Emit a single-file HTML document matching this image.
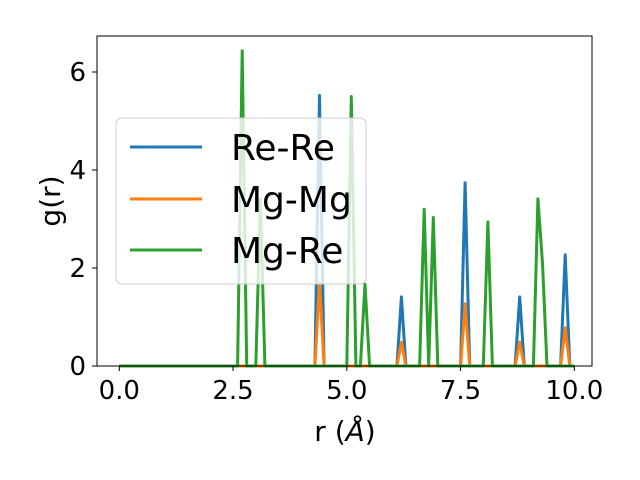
<!DOCTYPE html>
<html><head><meta charset="utf-8"><style>body{margin:0;background:#fff}svg{display:block;font-family:"DejaVu Sans","Liberation Sans",sans-serif}</style></head>
<body>
<svg id="chart" width="640" height="480" viewBox="0 0 640 480">
<rect x="97" y="36" width="495" height="330" fill="#fff"/>
<g id="series"></g>
<rect x="97" y="36" width="495" height="330" fill="none" stroke="#000" stroke-width="1"/>
<g id="axes"></g>
<text transform="translate(60,201) rotate(-90)" text-anchor="middle" font-size="28">g(r)</text>
<text x="345" y="441" text-anchor="middle" font-size="28">r (<tspan font-style="italic">Å</tspan>)</text>
<g>
<rect x="116" y="118" width="250" height="166" rx="6" fill="#fff" fill-opacity="0.8" stroke="#ccc"/>
<line x1="130" y1="147" x2="202" y2="147" stroke="#1f77b4" stroke-width="3"/>
<text x="231" y="160" font-size="36">Re-Re</text>
<line x1="130" y1="199" x2="202" y2="199" stroke="#ff7f0e" stroke-width="3"/>
<text x="231" y="212" font-size="36">Mg-Mg</text>
<line x1="130" y1="250" x2="202" y2="250" stroke="#2ca02c" stroke-width="3"/>
<text x="231" y="263" font-size="36">Mg-Re</text>
</g>
</svg>
<script>
const peakR = [2.7,3.1,4.4,5.1,5.4,6.2,6.7,6.9,7.6,8.1,8.8,9.2,9.3,9.8];
const reRe  = [0,0,5.52,0,0,1.41,0,0,3.74,0,1.41,0,0,2.27];
const mgMg  = [0,0,1.7,0,0,0.49,0,0,1.27,0,0.49,0,0,0.78];
const mgRe  = [6.43,3.4,0,5.5,1.67,0,3.2,3.03,0,2.94,0,3.41,2.1,0];
const xTicks = [0,2.5,5,7.5,10];
const xTickLabels = ["0.0","2.5","5.0","7.5","10.0"];
const yTicks = [0,2,4,6];
const yTickLabels = ["0","2","4","6"];
const NS="http://www.w3.org/2000/svg";
const X=r=>119.3+r*45.5, Y=v=>366-v*49;
function full(vals){const a=[];for(let i=0;i<=100;i++){const r=i/10;const k=peakR.findIndex(p=>Math.abs(p-r)<1e-6);a.push(k>=0?vals[k]:0);}return a;}
const sg=document.getElementById('series');
[[reRe,'#1f77b4','line-re-re'],[mgMg,'#ff7f0e','line-mg-mg'],[mgRe,'#2ca02c','line-mg-re']].forEach(([v,c,n])=>{
 const d=full(v).map((y,i)=>(i?'L':'M')+X(i/10).toFixed(1)+','+Y(y).toFixed(1)).join('');
 const p=document.createElementNS(NS,'path');
 p.setAttribute('d',d);p.setAttribute('fill','none');p.setAttribute('stroke',c);p.setAttribute('stroke-width','3');p.setAttribute('stroke-linejoin','round');
 
 
 sg.appendChild(p);
});
const ax=document.getElementById('axes');
xTicks.forEach((t,i)=>{
 const l=document.createElementNS(NS,'line');l.setAttribute('x1',X(t));l.setAttribute('x2',X(t));l.setAttribute('y1',366);l.setAttribute('y2',371);l.setAttribute('stroke','#000');
 
 
 ax.appendChild(l);
 const s=document.createElementNS(NS,'text');s.setAttribute('x',X(t));s.setAttribute('y',399);s.setAttribute('text-anchor','middle');s.setAttribute('font-size','26');s.textContent=xTickLabels[i];
 
 
 ax.appendChild(s);
});
yTicks.forEach((t,i)=>{
 const l=document.createElementNS(NS,'line');l.setAttribute('x1',92);l.setAttribute('x2',97);l.setAttribute('y1',Y(t));l.setAttribute('y2',Y(t));l.setAttribute('stroke','#000');
 
 
 ax.appendChild(l);
 const s=document.createElementNS(NS,'text');s.setAttribute('x',86);s.setAttribute('y',Y(t)+9);s.setAttribute('text-anchor','end');s.setAttribute('font-size','26');s.textContent=yTickLabels[i];
 
 
 ax.appendChild(s);
});
</script>
</body></html>
